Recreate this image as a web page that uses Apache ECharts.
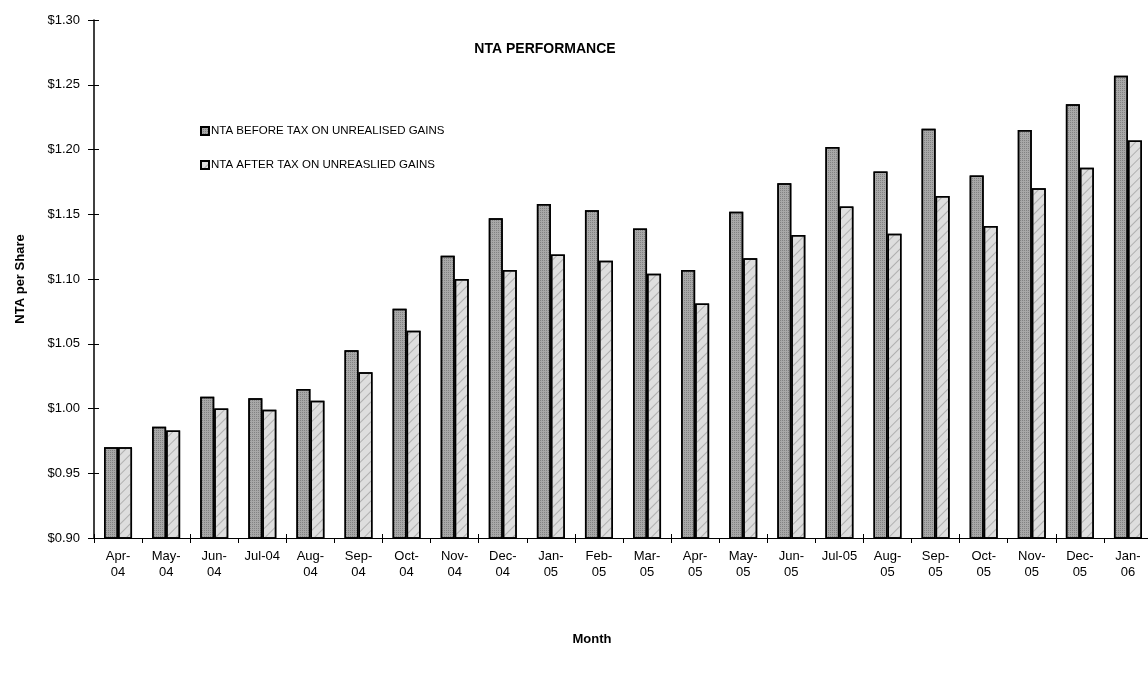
<!DOCTYPE html>
<html>
<head>
<meta charset="utf-8">
<script src="https://cdn.jsdelivr.net/npm/echarts@6/dist/echarts.min.js"></script>
<style>html,body{margin:0;padding:0;background:#fff;overflow:hidden;width:1148px;height:673px;}#c{width:1170px;height:673px;}</style>
</head>
<body>
<div id="c"></div>
<script>
const categories = ['Apr-04','May-04','Jun-04','Jul-04','Aug-04','Sep-04','Oct-04','Nov-04','Dec-04','Jan-05','Feb-05','Mar-05','Apr-05','May-05','Jun-05','Jul-05','Aug-05','Sep-05','Oct-05','Nov-05','Dec-05','Jan-06'];
const beforeTax = [0.970,0.986,1.009,1.008,1.015,1.045,1.077,1.118,1.147,1.158,1.153,1.139,1.107,1.152,1.174,1.202,1.183,1.216,1.180,1.215,1.235,1.257];
const afterTax  = [0.970,0.983,1.000,0.999,1.006,1.028,1.060,1.100,1.107,1.119,1.114,1.104,1.081,1.116,1.134,1.156,1.135,1.164,1.141,1.170,1.186,1.207];
const seriesNames = ['NTA BEFORE TAX ON UNREALISED GAINS','NTA AFTER TAX ON UNREASLIED GAINS'];
const yTicks = {min:0.90, max:1.30, interval:0.05};

const chart = echarts.init(document.getElementById('c'));
const font = 'Liberation Sans, Arial, sans-serif';
const labelFmt = v => v.startsWith('Jul') ? v : v.replace('-', '-\n');
chart.setOption({
  animation:false,
  backgroundColor:'#fff',
  title:[{text:'NTA PERFORMANCE', left:540, top:37, textAlign:'center',
    textStyle:{fontFamily:font, fontSize:14, fontWeight:'bold', color:'#000'}},
    {text:'Month', left:587, top:628, textAlign:'center',
    textStyle:{fontFamily:font, fontSize:13, fontWeight:'bold', color:'#000'}}],
  legend:{orient:'vertical', left:200, top:125, padding:0, itemGap:22, itemWidth:8, itemHeight:8,
    icon:'rect', textStyle:{fontFamily:font, fontSize:11.5, color:'#000', padding:[0,0,0,-3]},
    data:seriesNames},
  grid:{left:94, top:20, width:1058, height:518, containLabel:false},
  xAxis:[{type:'category', data:categories,
    axisLine:{lineStyle:{color:'#000', width:1}},
    axisTick:{show:true, length:5, lineStyle:{color:'#000'}},
    axisLabel:{fontFamily:font, fontSize:13, color:'#000', margin:10, lineHeight:16, interval:0,
      formatter:labelFmt}},
   {type:'category', data:categories, position:'bottom', offset:0,
    axisLine:{show:false}, axisLabel:{show:false},
    axisTick:{show:true, inside:true, length:4, lineStyle:{color:'#000'}}}],
  yAxis:[{type:'value', min:yTicks.min, max:yTicks.max, interval:yTicks.interval,
    name:'NTA per Share', nameLocation:'middle', nameGap:67, nameRotate:90,
    nameTextStyle:{fontFamily:font, fontSize:13, fontWeight:'bold', color:'#000'},
    axisLine:{show:true, lineStyle:{color:'#000', width:1.5}},
    axisTick:{show:true, length:6, lineStyle:{color:'#000'}},
    splitLine:{show:false},
    axisLabel:{fontFamily:font, fontSize:13, color:'#000', margin:14,
      formatter:v => '$' + v.toFixed(2)}},
   {type:'value', min:yTicks.min, max:yTicks.max, interval:yTicks.interval, position:'left',
    axisLine:{show:false}, axisLabel:{show:false}, splitLine:{show:false},
    axisTick:{show:true, inside:true, length:5, lineStyle:{color:'#000'}}}],
  series:[
    {name:seriesNames[0], type:'bar', data:beforeTax, barWidth:14, barGap:'0%',
      itemStyle:{color:'#a8a8a8', borderColor:'#000', borderWidth:1.5,
        decal:{symbol:'rect', symbolSize:1, dashArrayX:[[1,1]], dashArrayY:[1,1], color:'rgba(60,60,60,0.35)'}}},
    {name:seriesNames[1], type:'bar', data:afterTax, barWidth:14,
      itemStyle:{color:'#dedede', borderColor:'#000', borderWidth:1.5,
        decal:{symbol:'rect', symbolSize:1, dashArrayX:[[1,0]], dashArrayY:[1,6], rotation:-Math.PI/4, color:'rgba(90,90,90,0.35)'}}}
  ]
});
</script>
</body>
</html>
